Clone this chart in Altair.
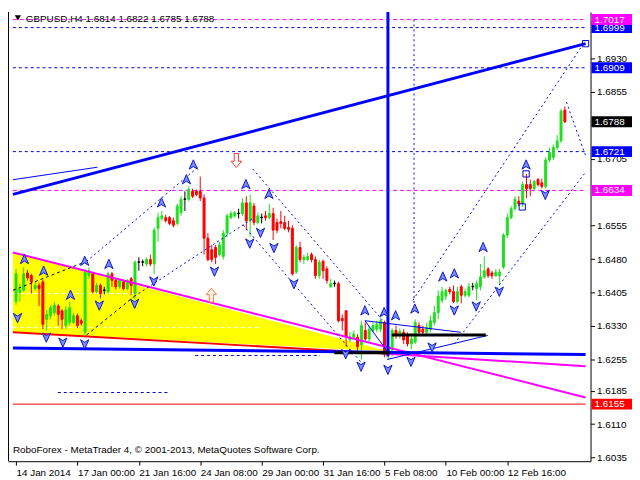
import altair as alt
import pandas as pd

W, H = 590, 455
XDOM = [-0.8, 148.4]
YDOM = [1.6027, 1.7034]

# ---------------- candles (H4 bars) ----------------
opens = [1.6385,1.6405,1.6410,1.6449,1.6443,1.6414,1.6421,1.6429,1.6345,1.6353,
         1.6360,1.6375,1.6364,1.6331,1.6338,1.6338,1.6353,1.6342,1.6316,1.6443,
         1.6447,1.6407,1.6421,1.6410,1.6407,1.6447,1.6432,1.6418,1.6429,1.6414,
         1.6436,1.6403,1.6473,1.6473,1.6469,1.6479,1.6469,1.6549,1.6571,1.6573,
         1.6573,1.6566,1.6560,1.6584,1.6614,1.6614,1.6632,1.6632,1.6632,1.6617,
         1.6527,1.6501,1.6506,1.6490,1.6486,1.6538,1.6573,1.6577,1.6582,1.6582,
         1.6606,1.6566,1.6599,1.6562,1.6573,1.6577,1.6573,1.6582,1.6562,1.6564,
         1.6562,1.6551,1.6549,1.6451,1.6506,1.6479,1.6479,1.6490,1.6479,1.6443,
         1.6475,1.6458,1.6418,1.6425,1.6425,1.6347,1.6364,1.6299,1.6305,1.6305,
         1.6288,1.6320,1.6301,1.6320,1.6323,1.6323,1.6338,1.6273,1.6277,1.6320,
         1.6312,1.6316,1.6310,1.6290,1.6294,1.6331,1.6323,1.6316,1.6323,1.6338,
         1.6360,1.6388,1.6397,1.6412,1.6407,1.6385,1.6418,1.6399,1.6399,1.6418,
         1.6414,1.6418,1.6440,1.6458,1.6449,1.6443,1.6443,1.6462,1.6534,1.6573,
         1.6593,1.6610,1.6604,1.6647,1.6647,1.6638,1.6658,1.6651,1.6643,1.6702,
         1.6708,1.6730,1.6745,1.6814]
closes = [1.6447,1.6412,1.6447,1.6438,1.6429,1.6421,1.6414,1.6334,1.6356,1.6371,
          1.6377,1.6356,1.6345,1.6366,1.6371,1.6353,1.6331,1.6336,1.6451,1.6454,
          1.6407,1.6421,1.6403,1.6411,1.6447,1.6432,1.6418,1.6432,1.6414,1.6432,
          1.6421,1.6473,1.6474,1.6474,1.6479,1.6469,1.6545,1.6573,1.6577,1.6566,
          1.6560,1.6556,1.6599,1.6614,1.6615,1.6636,1.6621,1.6625,1.6617,1.6527,
          1.6479,1.6479,1.6484,1.6512,1.6538,1.6577,1.6582,1.6584,1.6583,1.6606,
          1.6566,1.6606,1.6562,1.6577,1.6574,1.6573,1.6582,1.6545,1.6545,1.6560,
          1.6549,1.6547,1.6447,1.6506,1.6479,1.6484,1.6486,1.6479,1.6443,1.6473,
          1.6454,1.6432,1.6425,1.6426,1.6342,1.6342,1.6305,1.6305,1.6312,1.6284,
          1.6331,1.6301,1.6323,1.6331,1.6334,1.6342,1.6266,1.6284,1.6320,1.6310,
          1.6318,1.6299,1.6290,1.6301,1.6338,1.6316,1.6316,1.6327,1.6342,1.6360,
          1.6397,1.6407,1.6410,1.6407,1.6385,1.6407,1.6399,1.6407,1.6418,1.6419,
          1.6425,1.6440,1.6454,1.6443,1.6443,1.6451,1.6451,1.6534,1.6573,1.6593,
          1.6614,1.6604,1.6647,1.6638,1.6638,1.6654,1.6647,1.6643,1.6702,1.6719,
          1.6730,1.6745,1.6812,1.6788]
highs = [1.6458,1.6425,1.6462,1.6456,1.6447,1.6429,1.6427,1.6434,1.6366,1.6377,
         1.6384,1.6379,1.6368,1.6375,1.6384,1.6360,1.6358,1.6347,1.6458,1.6462,
         1.6451,1.6427,1.6425,1.6418,1.6451,1.6451,1.6436,1.6436,1.6434,1.6436,
         1.6440,1.6477,1.6484,1.6479,1.6484,1.6490,1.6551,1.6584,1.6588,1.6580,
         1.6577,1.6573,1.6604,1.6621,1.6632,1.6643,1.6638,1.6636,1.6665,1.6625,
         1.6538,1.6512,1.6512,1.6519,1.6545,1.6582,1.6588,1.6588,1.6593,1.6617,
         1.6621,1.6625,1.6606,1.6584,1.6582,1.6588,1.6604,1.6595,1.6571,1.6588,
         1.6577,1.6566,1.6556,1.6512,1.6519,1.6490,1.6495,1.6495,1.6486,1.6479,
         1.6479,1.6464,1.6436,1.6432,1.6429,1.6356,1.6366,1.6316,1.6320,1.6312,
         1.6342,1.6338,1.6331,1.6338,1.6342,1.6349,1.6342,1.6294,1.6325,1.6331,
         1.6325,1.6323,1.6316,1.6310,1.6345,1.6338,1.6331,1.6338,1.6353,1.6375,
         1.6410,1.6418,1.6414,1.6418,1.6421,1.6418,1.6423,1.6414,1.6427,1.6427,
         1.6432,1.6469,1.6486,1.6462,1.6454,1.6458,1.6458,1.6538,1.6582,1.6599,
         1.6621,1.6621,1.6654,1.6671,1.6658,1.6658,1.6662,1.6660,1.6708,1.6730,
         1.6737,1.6758,1.6817,1.6822]
lows = [1.6377,1.6385,1.6407,1.6432,1.6403,1.6410,1.6375,1.6323,1.6320,1.6345,
        1.6353,1.6331,1.6323,1.6323,1.6331,1.6334,1.6325,1.6331,1.6310,1.6436,
        1.6403,1.6403,1.6392,1.6401,1.6403,1.6418,1.6412,1.6414,1.6410,1.6410,
        1.6399,1.6390,1.6454,1.6464,1.6464,1.6464,1.6447,1.6519,1.6566,1.6562,
        1.6556,1.6551,1.6556,1.6577,1.6588,1.6610,1.6617,1.6621,1.6610,1.6490,
        1.6475,1.6473,1.6469,1.6486,1.6479,1.6530,1.6569,1.6573,1.6571,1.6577,
        1.6545,1.6530,1.6556,1.6558,1.6560,1.6566,1.6569,1.6523,1.6538,1.6549,
        1.6545,1.6540,1.6443,1.6447,1.6473,1.6469,1.6475,1.6473,1.6436,1.6436,
        1.6436,1.6425,1.6416,1.6418,1.6338,1.6320,1.6284,1.6294,1.6301,1.6273,
        1.6255,1.6294,1.6294,1.6316,1.6316,1.6316,1.6260,1.6255,1.6262,1.6301,
        1.6301,1.6290,1.6284,1.6277,1.6290,1.6310,1.6312,1.6312,1.6316,1.6331,
        1.6345,1.6381,1.6388,1.6401,1.6381,1.6381,1.6381,1.6394,1.6394,1.6410,
        1.6388,1.6410,1.6436,1.6438,1.6436,1.6440,1.6421,1.6458,1.6527,1.6569,
        1.6588,1.6599,1.6597,1.6617,1.6621,1.6632,1.6643,1.6638,1.6638,1.6697,
        1.6702,1.6725,1.6741,1.6785]

# ---------------- axes ----------------
tick_prices = [1.6930, 1.6855, 1.6705, 1.6555, 1.6480,
               1.6405, 1.6330, 1.6255, 1.6185, 1.6110, 1.6035]
time_positions = [0, 16, 32, 48, 64, 80, 96, 112, 128]
time_labels = ["14 Jan 2014", "17 Jan 00:00", "21 Jan 16:00", "24 Jan 08:00",
               "29 Jan 00:00", "31 Jan 16:00", "5 Feb 08:00", "10 Feb 00:00",
               "12 Feb 16:00"]

# ---------------- price labels on the right ----------------
label_prices = [1.6999, 1.6909, 1.6788, 1.6721, 1.6634, 1.6155, 1.7017]
label_texts = ["1.6999", "1.6909", "1.6788", "1.6721", "1.6634", "1.6155", "1.7017"]
label_colors = ["#0000ff", "#0000ff", "#000000", "#0000ff", "#ff00ff", "#ff0000", "#ff00ff"]

# ---------------- fractal arrows ----------------
up_x = [2.2, 7.2, 17.9, 24.2, 14.2, 37.9, 44.4, 46.2, 59.9, 65.9, 90.9, 95.9,
        98.9, 103.9, 111.2, 114.2, 121.7, 132.9]
up_y = [1.6479, 1.6453, 1.6475, 1.6468, 1.6399, 1.6606, 1.6658, 1.6691, 1.6647,
        1.6625, 1.6364, 1.6360, 1.6353, 1.6368, 1.6440, 1.6447, 1.6506, 1.6691]
dn_x = [0.4, 7.9, 12.2, 17.9, 21.7, 30.9, 35.9, 51.7, 60.9, 63.7, 67.2, 72.4,
        85.9, 89.9, 96.9, 102.9, 108.4, 114.2, 119.9, 125.9, 137.9]
dn_y = [1.6349, 1.6305, 1.6294, 1.6290, 1.6377, 1.6381, 1.6431, 1.6453, 1.6516,
        1.6540, 1.6506, 1.6425, 1.6268, 1.6240, 1.6233, 1.6251, 1.6283, 1.6366,
        1.6375, 1.6408, 1.6625]
square_x = [132.9, 131.9, 148.4]
square_y = [1.6671, 1.6597, 1.6963]

# ---------------- drawn objects (bar, price) ----------------
yellow_x = [-0.8, 97.2]
yellow_top = [1.6495, 1.6273]
yellow_bot = [1.6316, 1.6273]

blue_thick = [(-0.8, 1.6281, 148.4, 1.6266), (-0.8, 1.6625, 148.4, 1.6963),
              (96.9, 1.7034, 96.9, 1.6262)]
blue_thin = [(-0.8, 1.6658, 21.2, 1.6686), (90.9, 1.6342, 97.2, 1.6268),
             (90.9, 1.6342, 115.9, 1.6316), (96.7, 1.6255, 122.9, 1.6309)]
magenta_lines = [(-0.8, 1.6495, 148.4, 1.6170), (96.7, 1.6268, 148.4, 1.6240)]
red_lines = [(-0.8, 1.6316, 97.2, 1.6268)]
black_thick = [(97.9, 1.6310, 122.4, 1.6310), (82.9, 1.6270, 97.4, 1.6270)]
blue_hdash = [(-0.8, 1.6999, 148.4, 1.6999), (-0.8, 1.6909, 148.4, 1.6909),
              (-0.8, 1.6721, 148.4, 1.6721), (46.7, 1.6264, 79.2, 1.6264),
              (10.9, 1.6181, 39.9, 1.6181)]
magenta_hdash = [(-0.8, 1.7017, 148.4, 1.7017), (-0.8, 1.6634, 148.4, 1.6634)]
red_hline = [(-0.8, 1.6155, 148.4, 1.6155)]
white_dash = [(-0.8, 1.6403, 31.7, 1.6403), (-0.8, 1.6327, 63.4, 1.6327)]
blue_dots = [(18.4, 1.6475, 47.4, 1.6686), (30.9, 1.6397, 61.7, 1.6571),
             (61.7, 1.6682, 95.4, 1.6344), (59.2, 1.6556, 90.4, 1.6244),
             (103.4, 1.6388, 148.4, 1.6970), (114.2, 1.6290, 148.4, 1.6675),
             (143.4, 1.6832, 148.4, 1.6712), (103.7, 1.7017, 103.7, 1.6381)]
black_dash = [(-0.8, 1.6410, 18.4, 1.6475), (18.4, 1.6310, 30.9, 1.6397)]

FONT = "Liberation Sans"
xs = alt.Scale(domain=XDOM, nice=False, zero=False)
ys = alt.Scale(domain=YDOM, nice=False, zero=False)

label_expr = "[" + ",".join("'%s'" % t for t in time_labels) + "][round(datum.value/16)]"
x_axis = alt.Axis(values=time_positions, labelExpr=label_expr, orient="bottom",
                  labelAlign="left", labelPadding=2, labelFont=FONT, labelFontSize=10,
                  labelColor="black", tickColor="black", tickSize=4,
                  domainColor="black", grid=False, title=None, labelFlush=False,
                  labelOverlap=False)
y_axis = alt.Axis(values=tick_prices, format=".4f", orient="right",
                  labelPadding=2, labelFont=FONT, labelFontSize=10,
                  labelColor="black", tickColor="black", tickSize=4,
                  domainColor="black", grid=False, title=None, labelFlush=False,
                  labelOverlap=False)


def X(field):
    return alt.X(field, type="quantitative", scale=xs, axis=x_axis)


def Y(field):
    return alt.Y(field, type="quantitative", scale=ys, axis=y_axis)


def seg(rows, color, width, dash=None):
    df = pd.DataFrame(rows, columns=["x1", "y1", "x2", "y2"])
    kw = dict(color=color, strokeWidth=width, clip=True)
    if dash:
        kw["strokeDash"] = dash
    return alt.Chart(df).mark_rule(**kw).encode(
        x=X("x1"), y=Y("y1"), x2="x2:Q", y2="y2:Q")


n = len(opens)
cols = []
for o, c in zip(opens, closes):
    if abs(c - o) < 0.00015:
        cols.append("#000000")
    elif c > o:
        cols.append("#1ee01e")
    else:
        cols.append("#ff0000")
candles = pd.DataFrame({"i": list(range(n)), "o": opens, "c": closes,
                        "h": highs, "l": lows, "col": cols})

wicks = alt.Chart(candles).mark_rule(strokeWidth=1).encode(
    x=X("i"), y=Y("l"), y2="h:Q",
    color=alt.Color("col:N", scale=None))
bodies = alt.Chart(candles).mark_bar(size=2, strokeWidth=1).encode(
    x=X("i"), y=Y("o"), y2="c:Q",
    color=alt.Color("col:N", scale=None),
    stroke=alt.Stroke("col:N", scale=None))

yellow = alt.Chart(pd.DataFrame({"x": yellow_x, "t": yellow_top, "b": yellow_bot})).mark_area(
    color="#ffff00", opacity=1, clip=True).encode(x=X("x"), y=Y("t"), y2="b:Q")

UP = "M0,-1L0.8,0.8L0,0.3L-0.8,0.8Z"
DN = "M0,1L0.8,-0.8L0,-0.3L-0.8,-0.8Z"
up_arrows = alt.Chart(pd.DataFrame({"x": up_x, "y": up_y})).mark_point(
    shape=UP, size=110, filled=True, fill="#7d8cff", stroke="#0a18c8",
    strokeWidth=1, opacity=1, clip=True).encode(x=X("x"), y=Y("y"))
dn_arrows = alt.Chart(pd.DataFrame({"x": dn_x, "y": dn_y})).mark_point(
    shape=DN, size=110, filled=True, fill="#7d8cff", stroke="#0a18c8",
    strokeWidth=1, opacity=1, clip=True).encode(x=X("x"), y=Y("y"))

BUP = "M0,-1L0.75,-0.1L0.3,-0.1L0.3,1L-0.3,1L-0.3,-0.1L-0.75,-0.1Z"
BDN = "M0,1L0.75,0.1L0.3,0.1L0.3,-1L-0.3,-1L-0.3,0.1L-0.75,0.1Z"
hollow_dn = alt.Chart(pd.DataFrame({"x": [57.4], "y": [1.6701]})).mark_point(
    shape=BDN, size=200, filled=True, fill="#ffffff", stroke="#ff3030",
    strokeWidth=1, opacity=1).encode(x=X("x"), y=Y("y"))
hollow_up = alt.Chart(pd.DataFrame({"x": [50.9], "y": [1.6399]})).mark_point(
    shape=BUP, size=200, filled=True, fill="#fff4e8", stroke="#ff7a30",
    strokeWidth=1, opacity=1).encode(x=X("x"), y=Y("y"))
squares = alt.Chart(pd.DataFrame({"x": square_x, "y": square_y})).mark_point(
    shape="square", size=40, filled=False, stroke="#0000c0", strokeWidth=1,
    opacity=1).encode(x=X("x"), y=Y("y"))

BOX = "M-1,-0.27L1,-0.27L1,0.27L-1,0.27Z"


def price_labels(prices, texts, colors):
    df = pd.DataFrame({"p": prices, "t": texts, "col": colors})
    box = alt.Chart(df).mark_point(shape=BOX, size=1681, filled=True, opacity=1,
                                   strokeWidth=0).encode(
        x=alt.value(W + 21.5), y=Y("p"),
        color=alt.Color("col:N", scale=None))
    txt = alt.Chart(df).mark_text(align="left", baseline="middle", font=FONT,
                                  fontSize=10, color="white").encode(
        x=alt.value(W + 4), y=Y("p"), text="t:N")
    return [box, txt]


labels_a = price_labels(label_prices[:-1], label_texts[:-1], label_colors[:-1])
labels_b = price_labels(label_prices[-1:], label_texts[-1:], label_colors[-1:])

header_df = pd.DataFrame({"t": ["GBPUSD,H4  1.6814 1.6822 1.6785 1.6788"]})
header = alt.Chart(header_df).mark_text(align="left", baseline="middle", font=FONT,
                                        fontSize=10, color="black").encode(
    x=alt.value(18), y=alt.value(7), text="t:N")
header_tri = alt.Chart(header_df).mark_point(shape="triangle-down", size=40,
                                             filled=True, color="black", opacity=1).encode(
    x=alt.value(10), y=alt.value(6))
copy_df = pd.DataFrame({"t": ["RoboForex - MetaTrader 4, \u00a9 2001-2013, MetaQuotes Software Corp."]})
copyright_txt = alt.Chart(copy_df).mark_text(align="left", baseline="middle", font=FONT,
                                             fontSize=10, color="black").encode(
    x=alt.value(5), y=alt.value(H - 11), text="t:N")
left_border = alt.Chart(header_df).mark_rule(color="black", strokeWidth=1).encode(
    x=alt.value(0.5), y=alt.value(0), y2=alt.value(H))

layers = [
    yellow,
    seg(white_dash, "#ffffff", 1, [4, 3]),
    seg(blue_hdash, "#0000d0", 1, [3, 3]),
    seg(magenta_hdash, "#ff00ff", 1, [4, 3]),
    seg(red_hline, "#ff0000", 1),
    wicks,
    bodies,
    seg(magenta_lines, "#ff00ff", 2),
    seg(red_lines, "#ff0000", 2),
    seg(blue_thick, "#0000ff", 3),
    seg(blue_thin, "#0000ff", 1),
    seg(black_thick, "#000000", 3),
    seg(blue_dots, "#0000ff", 1, [2, 3]),
    seg(black_dash, "#000000", 1, [3, 3]),
    up_arrows, dn_arrows, hollow_dn, hollow_up, squares,
] + labels_a + labels_b + [header_tri, header, copyright_txt, left_border]

chart = alt.layer(*layers).properties(
    width=W, height=H, padding=0, background="white"
).configure_view(strokeWidth=0).configure_axis(zindex=0)

chart.save("out.html", embed_options={"renderer": "svg", "actions": False})
